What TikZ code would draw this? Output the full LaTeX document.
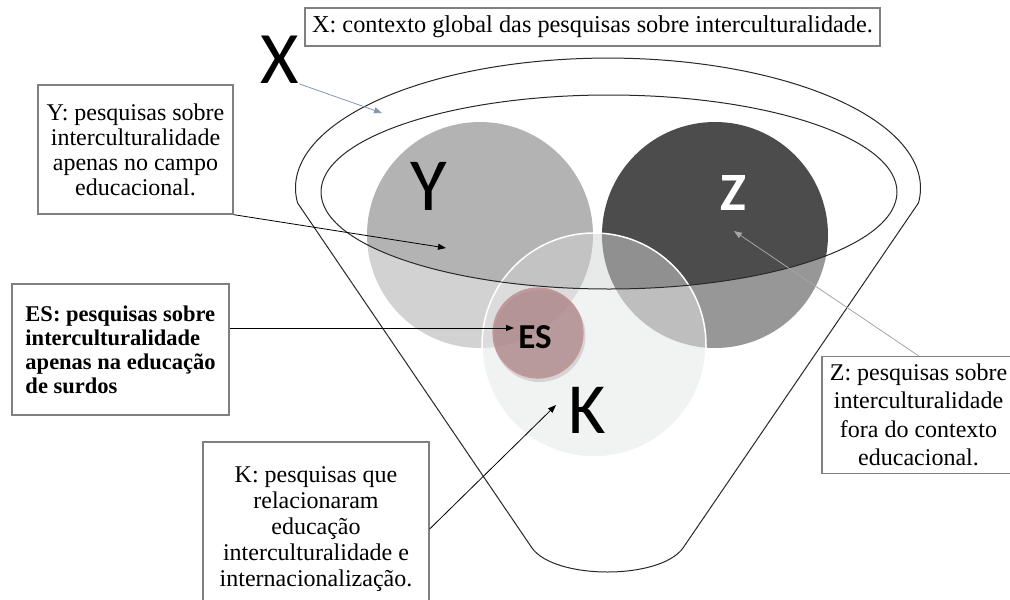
\documentclass[tikz,border=0pt]{standalone}
\usepackage{fontspec}
\setmainfont{Liberation Serif}
\newfontfamily\calib{Carlito}
\usetikzlibrary{arrows.meta,calc}
\definecolor{ycol}{RGB}{179,179,179}
\definecolor{zcol}{RGB}{75,76,75}
\definecolor{kcol}{RGB}{211,212,212}
\definecolor{escol}{RGB}{175,130,133}
\definecolor{esline}{RGB}{200,150,152}
\definecolor{boxline}{RGB}{128,128,128}
\definecolor{xarrow}{RGB}{132,151,176}
\definecolor{zarrow}{RGB}{165,165,165}
\definecolor{funnelline}{RGB}{40,40,40}
\begin{document}
\begin{tikzpicture}[x=1pt,y=-1pt,
  lbox/.style={draw=boxline, line width=1.3pt, fill=white, inner sep=0pt, align=center},
  conn/.style={line width=0.8pt, -{Triangle[length=8pt,width=6pt]}},
  bigletter/.style={inner sep=0pt},
  disc/.style={circle, inner sep=0pt},
]
\useasboundingbox (0,0) rectangle (1010,600);
\fill[white] (0,0) rectangle (1010,600);

% circles
\node[disc, minimum size=226pt, fill=ycol] (ycirc) at (480,235) {};
\node[disc, minimum size=226pt, fill=zcol] (zcirc) at (715,235) {};
\node[disc, minimum size=224pt, fill=kcol, fill opacity=0.5, draw=white, line width=1.5pt] (kcirc) at (594,345) {};

% funnel body overlay
\fill[white, fill opacity=0.42, even odd rule]
  (297.6,203) arc[start angle=173.4, end angle=366.6, x radius=312.5, y radius=130]
  -- (683,548) .. controls (660,580) and (555,580) .. (532,548) -- cycle
  (609,192) ellipse[x radius=288, y radius=97];

% ES circle
\fill[black, opacity=0.12] (539.5,336) circle[radius=46];
\node[disc, minimum size=90pt, fill=escol, fill opacity=0.7, draw=esline, line width=1.2pt] (escirc) at (538,333) {};

% funnel outline
\draw[funnelline, line width=1pt]
  (297.6,203) arc[start angle=173.4, end angle=366.6, x radius=312.5, y radius=130]
  -- (683,548) .. controls (660,580) and (555,580) .. (532,548) -- cycle;
\draw[funnelline, line width=1pt] (609,192) ellipse[x radius=288, y radius=97];

% big letters
\node[bigletter, font=\calib\fontsize{74}{74}\selectfont] (xl) at (280,60) {X};
\node[bigletter, font=\calib\fontsize{75}{75}\selectfont] (yl) at (428.5,186) {Y};
\node[bigletter, text=white, font=\calib\bfseries\fontsize{54}{54}\selectfont] (zl) at (733.5,192.5) {Z};
\node[bigletter, font=\calib\fontsize{72}{72}\selectfont] (kl) at (587,410) {K};
\node[bigletter, font=\calib\bfseries\fontsize{35}{35}\selectfont] (esl) at (535,337.5) {ES};

% label boxes
\node[lbox, minimum width=575pt, minimum height=38pt, font=\fontsize{24.3}{25}\selectfont] (xbox) at (592.5,27)
  {X: contexto global das pesquisas sobre interculturalidade.};
\node[lbox, minimum width=195pt, minimum height=129pt, font=\fontsize{24}{25}\selectfont] (ybox) at (135.5,149.5)
  {Y: pesquisas sobre\\interculturalidade\\apenas no campo\\educacional.};
\node[lbox, align=left, minimum width=217pt, minimum height=131pt, font=\bfseries\fontsize{22.5}{24}\selectfont] (esbox) at (120.5,349.5)
  {ES: pesquisas sobre\\interculturalidade\\apenas na educação\\de surdos};
\node[lbox, minimum width=226pt, minimum height=174pt, font=\fontsize{24}{26}\selectfont] (kbox) at (316,529)
  {K: pesquisas que\\relacionaram\\educação\\interculturalidade e\\internacionalização.};
\node[lbox, minimum width=193pt, minimum height=117pt, font=\fontsize{24}{28.5}\selectfont] (zbox) at (918.5,415)
  {Z: pesquisas sobre\\interculturalidade\\fora do contexto\\educacional.};

% arrow targets
\coordinate (xtip) at (382,113);
\coordinate (ytip) at (446,248);
\coordinate (estip) at (514,328);
\coordinate (ktip) at (556,405);
\coordinate (ztip) at (734,231);

% connectors
\draw[conn, xarrow] (xl.south east) -- (xtip);
\draw[conn, black] (ybox.south east) -- (ytip);
\draw[conn, black] (esbox.east |- estip) -- (estip);
\draw[conn, black] (kbox.east) -- (ktip);
\draw[conn, zarrow] (zbox.north) -- (ztip);
\end{tikzpicture}
\end{document}
